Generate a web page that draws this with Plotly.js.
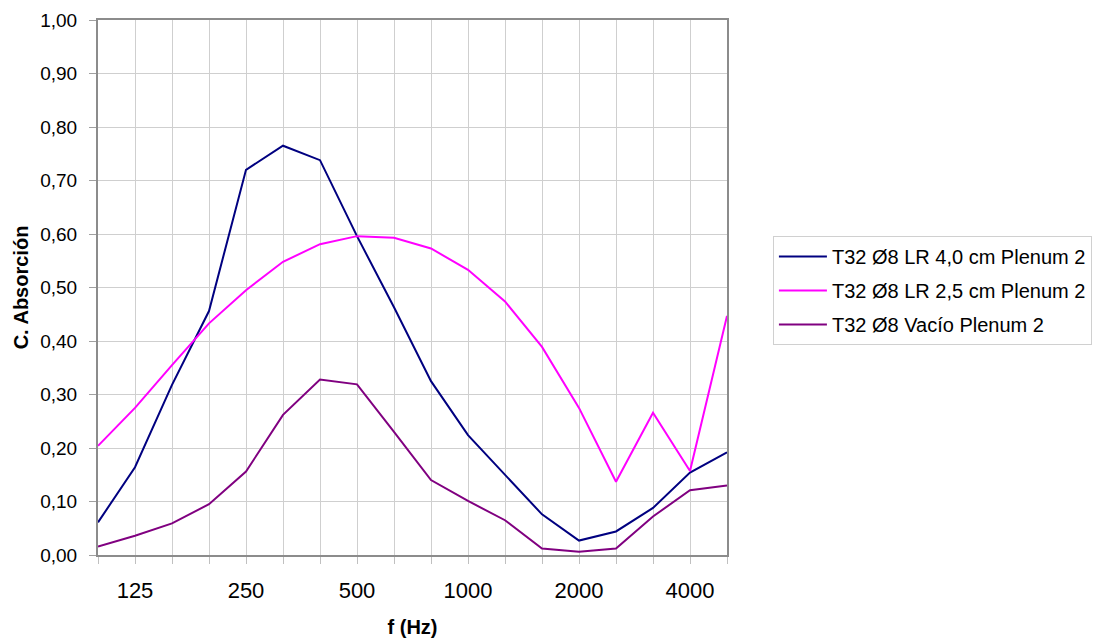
<!DOCTYPE html>
<html>
<head>
<meta charset="utf-8">
<script src="https://cdn.plot.ly/plotly-3.0.1.min.js"></script>
<style>html,body{margin:0;padding:0;background:#fff;}#chart{width:1098px;height:638px;}</style>
</head>
<body>
<div id="chart"></div>
<script>
const freqs = ['100','125','160','200','250','315','400','500','630','800','1000','1250','1600','2000','2500','3150','4000','5000'];
const shownLabels = ['125','250','500','1000','2000','4000'];
const seriesNames = ['T32 Ø8 LR 4,0 cm Plenum 2','T32 Ø8 LR 2,5 cm Plenum 2','T32 Ø8 Vacío Plenum 2'];
const lr40 = [0.061,0.164,0.318,0.456,0.720,0.765,0.738,0.596,0.463,0.325,0.224,0.151,0.076,0.027,0.044,0.088,0.154,0.192];
const lr25 = [0.204,0.275,0.355,0.433,0.495,0.548,0.581,0.596,0.593,0.573,0.533,0.474,0.389,0.275,0.137,0.266,0.157,0.447];
const vacio = [0.016,0.036,0.059,0.095,0.156,0.262,0.328,0.319,0.230,0.140,0.101,0.065,0.012,0.006,0.012,0.072,0.121,0.130];
const colors = ['#000080','#FF00FF','#800080'];

const FONT = 'Liberation Sans, Arial, sans-serif';
const data = [lr40, lr25, vacio].map((ys, i) => ({
  type: 'scatter', mode: 'lines', x: freqs, y: ys, name: seriesNames[i],
  legendgroup: 'g' + i,
  line: {color: colors[i], width: 2}
}));

const layout = {
  width: 1098, height: 638,
  margin: {l: 98, r: 371, t: 20, b: 83, autoexpand: false},
  paper_bgcolor: '#fff', plot_bgcolor: '#fff',
  separators: ',.',
  font: {family: FONT, size: 16, color: '#000'},
  showlegend: true,
  legend: {
    x: 1.073, y: 0.5963, xanchor: 'left', yanchor: 'top',
    bordercolor: '#d0d0d0', borderwidth: 1, bgcolor: '#fff',
    tracegroupgap: 5, itemwidth: 48,
    font: {family: FONT, size: 20, color: '#000'}
  },
  xaxis: {
    type: 'category', range: [0, freqs.length - 1], automargin: false,
    tickvals: freqs, ticktext: freqs.map(f => shownLabels.includes(f) ? f : ''),
    ticks: 'outside', ticklen: 7, tickcolor: '#c0c0c0', ticklabelstandoff: 8,
    showgrid: true, gridcolor: '#cfcfcf', gridwidth: 1,
    showline: true, linecolor: '#8c8c8c', linewidth: 2, mirror: true,
    zeroline: false, tickfont: {family: FONT, size: 22},
    title: {text: '<b>f (Hz)</b>', font: {family: FONT, size: 20}, standoff: 19}
  },
  yaxis: {
    range: [0, 1], dtick: 0.1, tick0: 0, tickformat: '.2f', automargin: false,
    ticks: 'outside', ticklen: 7, tickcolor: '#a0a0a0', ticklabelstandoff: 8,
    showgrid: true, gridcolor: '#cfcfcf', gridwidth: 1,
    showline: true, linecolor: '#8c8c8c', linewidth: 2, mirror: true,
    zeroline: false, tickfont: {family: FONT, size: 19},
    title: {text: '<b>C. Absorción</b>', font: {family: FONT, size: 20}, standoff: 6}
  }
};
Plotly.newPlot('chart', data, layout, {displayModeBar: false, staticPlot: true});
</script>
</body>
</html>
